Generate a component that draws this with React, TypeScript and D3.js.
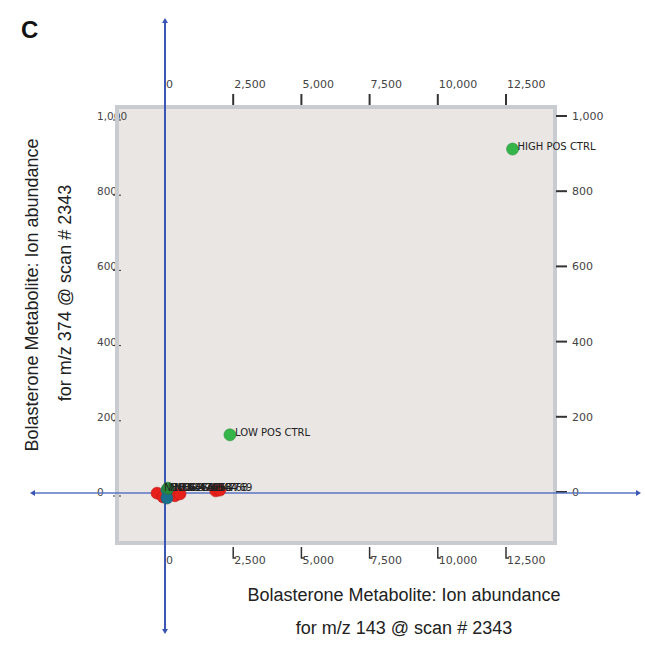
import React from "react";
import * as d3 from "d3";

const xTicks = [0, 2500, 5000, 7500, 10000, 12500];
const yTicks = [0, 200, 400, 600, 800, 1000];

const pointNames = ["HIGH POS CTRL", "LOW POS CTRL", "NEG 4761", "NEG 4762", "NEG 4763", "NEG 4764", "4768", "4769", "NEG 4765", "NEG 4766", "NEG 4767"];
const pointX = [12740, 2380, -290, -70, 365, 550, 1860, 2010, 70, 70, 110];
const pointY = [912, 152, -3, -13, -10, -5, 3, 5, 5, -16, 10];
const pointColor = ["#35b44a", "#35b44a", "#e8201c", "#e8201c", "#e8201c", "#e8201c", "#e8201c", "#e8201c", "#138c86", "#1a6f8a", "#2a8a3a"];
const showLabel = [true, true, true, true, true, true, true, true, true, true, true];

const fmt = d3.format(",");

export default function App() {
  const x = d3.scaleLinear().domain([0, 12500]).range([165, 506]);
  const y = d3.scaleLinear().domain([0, 1000]).range([492, 116]);
  const boxL = 117, boxT = 107, boxR = 555, boxB = 543;
  const fontTick = "'DejaVu Sans', Verdana, sans-serif";
  const fontTitle = "'Liberation Sans', Arial, sans-serif";
  const blue = "#3b56b5";

  return (
    <svg width={645} height={646} style={{ position: "absolute", left: 0, top: 0 }}>
      <rect x={0} y={0} width={645} height={646} fill="#fff" />
      <text x={21} y={38} fontFamily={fontTitle} fontWeight="bold" fontSize={24} fill="#111">C</text>

      {/* plot box fill */}
      <rect x={boxL} y={boxT} width={boxR - boxL} height={boxB - boxT} fill="#e9e6e3" />

      {/* left tick labels (partly covered by the box border) */}
      {yTicks.map((t) => (
        <g key={"yl" + t}>
          <text x={97} y={y(t) + 4} fontFamily={fontTick} fontSize={10.5} fill="#444">{fmt(t)}</text>
          <line x1={113} x2={121} y1={y(t) + 4} y2={y(t) + 4} stroke="#333" strokeWidth={1} />
        </g>
      ))}

      {/* plot box border */}
      <rect x={boxL} y={boxT} width={boxR - boxL} height={boxB - boxT} fill="none" stroke="#c8ccd0" strokeWidth={4} />

      {/* top axis */}
      {xTicks.map((t) => (
        <g key={"xt" + t}>
          {t !== 0 && <line x1={x(t)} x2={x(t)} y1={94} y2={105} stroke="#333" strokeWidth={2} />}
          <text x={x(t) + 1} y={88} fontFamily={fontTick} fontSize={11} fill="#444">{fmt(t)}</text>
        </g>
      ))}

      {/* bottom axis */}
      {xTicks.map((t) => (
        <g key={"xb" + t}>
          {t !== 0 && (
            <path d={`M${x(t)},547 L${x(t)},558 L${x(t) + 3},558`} fill="none" stroke="#333" strokeWidth={1.5} />
          )}
          <text x={x(t) + 1} y={564} fontFamily={fontTick} fontSize={11} fill="#444">{fmt(t)}</text>
        </g>
      ))}

      {/* right axis */}
      {yTicks.map((t) => (
        <g key={"yr" + t}>
          <line x1={556} x2={567} y1={y(t)} y2={y(t)} stroke="#333" strokeWidth={2} />
          <text x={572} y={y(t) + 4} fontFamily={fontTick} fontSize={11} fill="#444">{fmt(t)}</text>
        </g>
      ))}

      {/* blue zero axes */}
      <line x1={32} x2={638} y1={y(0) + 1} y2={y(0) + 1} stroke="#5b74c4" strokeWidth={1.4} />
      <path d={`M${30},${y(0) + 1} l5,-3 l0,6 z`} fill={blue} />
      <path d={`M${641},${y(0) + 1} l-5,-3 l0,6 z`} fill={blue} />
      <line x1={x(0)} x2={x(0)} y1={21} y2={631} stroke={blue} strokeWidth={2} />
      <path d={`M${x(0)},${18} l-3,5 l6,0 z`} fill={blue} />
      <path d={`M${x(0)},${634} l-3,-5 l6,0 z`} fill={blue} />

      {/* points */}
      {pointX.map((px, i) => (
        <circle key={"p" + i} cx={x(px)} cy={y(pointY[i])} r={6} fill={pointColor[i]} stroke={d3.color(pointColor[i])!.darker(0.6).toString()} strokeWidth={0.6} />
      ))}
      {pointX.map((px, i) =>
        showLabel[i] ? (
          <text key={"l" + i} x={x(px) + (i < 2 ? 5 : 7)} y={i < 2 ? y(pointY[i]) + 1 : 491} fontFamily={fontTick} fontSize={10} fill="#222">{pointNames[i]}</text>
        ) : null
      )}

      {/* axis titles */}
      <text transform="translate(38,295) rotate(-90)" textAnchor="middle" fontFamily={fontTitle} fontSize={18} fill="#222">Bolasterone Metabolite: Ion abundance</text>
      <text transform="translate(71,293) rotate(-90)" textAnchor="middle" fontFamily={fontTitle} fontSize={18} fill="#222">for m/z 374 @ scan # 2343</text>
      <text x={404} y={601} textAnchor="middle" fontFamily={fontTitle} fontSize={18} fill="#222">Bolasterone Metabolite: Ion abundance</text>
      <text x={404} y={634} textAnchor="middle" fontFamily={fontTitle} fontSize={18} fill="#222">for m/z 143 @ scan # 2343</text>
    </svg>
  );
}
